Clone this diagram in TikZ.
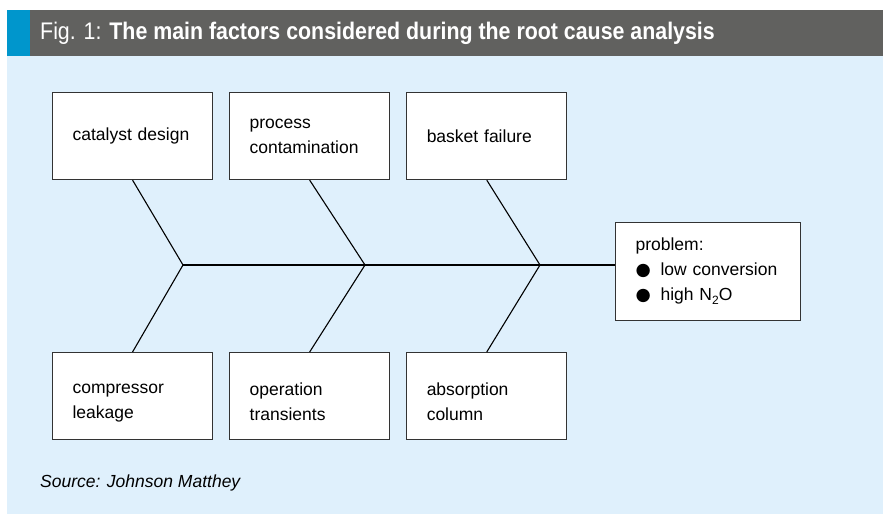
\documentclass[tikz,border=0pt]{standalone}
\usepackage{fontspec}
\setmainfont{Liberation Sans}
\newfontfamily\symfont{DejaVu Sans}
\usetikzlibrary{positioning}
\definecolor{HeadGray}{RGB}{97,97,95}
\definecolor{HeadBlue}{RGB}{0,150,204}
\definecolor{PaleBlue}{RGB}{223,240,252}
\definecolor{BoxLine}{RGB}{51,51,51}

\begin{document}
\begin{tikzpicture}[
x=1pt,y=-1pt,
FishBox/.style={draw=BoxLine,fill=white,line width=1.1pt,minimum width=160pt,minimum height=87pt,text width=120pt,inner xsep=20pt,align=left,font=\fontsize{17.5}{25}\selectfont},
Bones/.style={draw=black,line width=1.1pt},
]
\useasboundingbox (0,0) rectangle (883,514);
\fill[PaleBlue] (7,56) rectangle (883,514);
\fill[HeadGray] (7,10) rectangle (883,56);
\fill[HeadBlue] (7,10) rectangle (30,56);

\node[anchor=west,inner sep=0pt,text=white,font=\fontsize{24}{24}\selectfont] (title) at (40,33)
  {\scalebox{0.89}[1]{Fig. 1: \textbf{The main factors considered during the root cause analysis}}};

% causes above the spine
\node[FishBox,anchor=north west] (cat) at (52,92) {catalyst design};
\node[FishBox,right=16pt of cat] (proc) {process\\contamination};
\node[FishBox,right=16pt of proc] (bask) {basket failure};

% causes below the spine
\node[FishBox,anchor=north west] (comp) at (52,352) {\rule{0pt}{24pt}compressor\\leakage};
\node[FishBox,right=16pt of comp] (oper) {\rule{0pt}{24pt}operation\\transients};
\node[FishBox,right=16pt of oper] (absorp) {\rule{0pt}{24pt}absorption\\column};

% the effect
\node[FishBox,anchor=north west,minimum width=185pt,text width=145pt,minimum height=98pt] (prob) at (615,222)
  {problem:\\\makebox[25pt][l]{\symfont ●}low conversion\\\makebox[25pt][l]{\symfont ●}high N\raisebox{-0.45ex}{\fontsize{12}{12}\selectfont 2}O};

\coordinate (j1) at (183,265);
\coordinate (j2) at (365,265);
\coordinate (j3) at (540,265);

\draw[Bones] (cat.south) -- (j1) -- (comp.north);
\draw[Bones] (proc.south) -- (j2) -- (oper.north);
\draw[Bones] (bask.south) -- (j3) -- (absorp.north);
\draw[Bones] (j1) -- (j1 -| prob.west);

\node[anchor=west,inner sep=0pt,font=\fontsize{17.5}{17.5}\selectfont\itshape] (src) at (40,483) {Source: Johnson Matthey};

\end{tikzpicture}
\end{document}
